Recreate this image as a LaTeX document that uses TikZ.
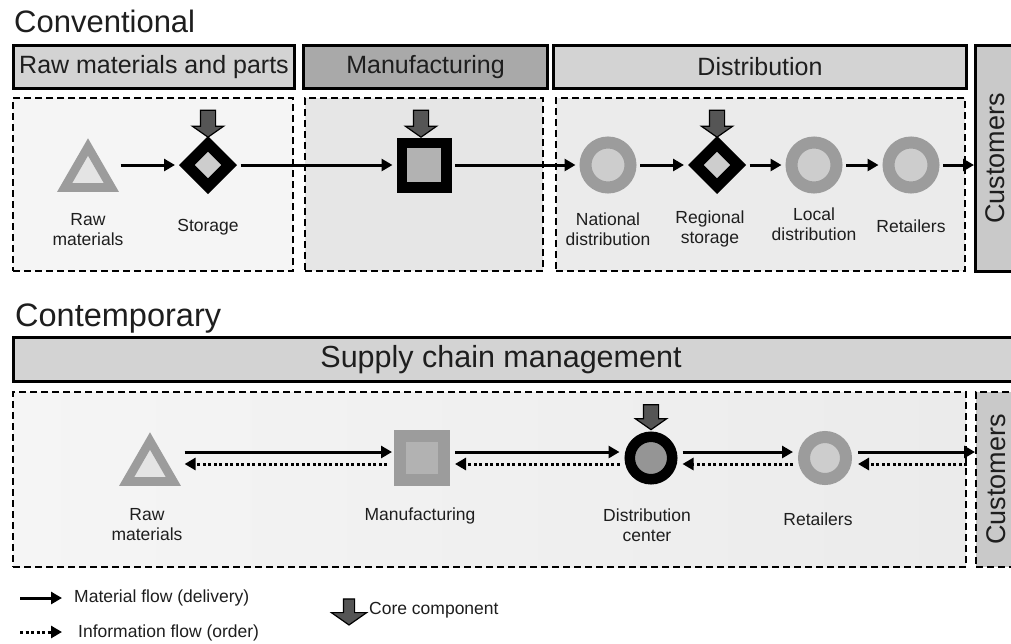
\documentclass[tikz,border=0pt]{standalone}
\usepackage{fontspec}
\setmainfont{Liberation Sans}
\usepackage{graphicx}
\usepackage{tikz}
\usetikzlibrary{shapes.geometric,shapes.arrows,arrows.meta}
\definecolor{ink}{HTML}{1E1E1E}
\definecolor{hdrfill}{HTML}{D3D3D3}
\definecolor{mfgfill}{HTML}{A9A9A9}
\definecolor{custfill}{HTML}{C9C9C9}
\definecolor{zoneA}{HTML}{F5F5F5}
\definecolor{zoneB}{HTML}{E6E6E6}
\definecolor{zoneC}{HTML}{EBEBEB}
\definecolor{ringgray}{HTML}{9C9C9C}
\definecolor{innergray}{HTML}{CDCDCD}
\definecolor{palegray}{HTML}{E4E4E4}
\definecolor{sqgray}{HTML}{B2B2B2}
\definecolor{dcgray}{HTML}{959595}
\definecolor{keygray}{HTML}{555555}
\tikzset{
  ttl/.style={text=ink, font=\fontsize{31}{35}\selectfont, anchor=base west, inner sep=0pt},
  hdr/.style={draw=black, line width=3pt, fill=hdrfill, text=ink, font=\fontsize{25}{29}\selectfont, minimum height=43pt, inner sep=0pt, anchor=north west},
  cust/.style={hdr, fill=custfill, font=\fontsize{27}{31}\selectfont, minimum width=39pt},
  zone/.style={draw=black, line width=2.4pt, dash pattern=on 7pt off 4pt, minimum height=173pt, inner sep=0pt, anchor=north west},
  lbl/.style={text=ink, font=\fontsize{17.5}{20}\selectfont, align=center, inner sep=0pt},
  lgd/.style={lbl, anchor=west},
  tri/.style={regular polygon, regular polygon sides=3, draw=ringgray, fill=palegray, line width=8.7pt, minimum size=54pt, inner sep=0pt},
  dia/.style={diamond, aspect=1, draw=black, fill=innergray, line width=11pt, minimum size=47pt, inner sep=0pt},
  sqbox/.style={rectangle, draw=black, fill=sqgray, line width=10.5pt, minimum size=44.5pt, inner sep=0pt},
  ringn/.style={circle, draw=ringgray, fill=innergray, line width=12pt, minimum size=45pt, inner sep=0pt},
  keyarr/.style={single arrow, draw=black, fill=keygray, line width=1.2pt, minimum height=27pt, minimum width=0pt, inner xsep=0pt, inner ysep=7pt, single arrow head extend=8pt, single arrow tip angle=110, rotate=-90},
  flow/.style={line width=3pt, -{Triangle[length=11pt,width=12pt]}, shorten >=4pt, shorten <=3.5pt},
  info/.style={flow, dash pattern=on 3pt off 2.5pt}
}
\begin{document}
\begin{tikzpicture}[x=1pt,y=-1pt]
  \useasboundingbox (0,0) rectangle (1011,643);
  \clip (0,0) rectangle (1011,643);
  \fill[white] (0,0) rectangle (1011,643);

  % conventional
  \node[ttl] (convT) at (14,32) {Conventional};
  \node[hdr, minimum width=281pt] (hdrA) at (12,44) {Raw materials and parts};
  \node[hdr, fill=mfgfill, minimum width=244pt] (hdrB) at (302,44) {Manufacturing};
  \node[hdr, minimum width=413pt] (hdrC) at (552,44) {Distribution};
  \node[cust, minimum height=226pt] (custA) at (974,44) {\rotatebox{90}{Customers}};
  \node[zone, fill=zoneA, minimum width=280pt] (zA) at (12,97) {};
  \node[zone, fill=zoneB, minimum width=238pt] (zB) at (304,97) {};
  \node[zone, fill=zoneC, minimum width=409pt] (zC) at (555,97) {};

  \node[tri] (rawA) at (88,174) {};
  \node[dia] (storA) at (208,165) {};
  \node[sqbox] (manA) at (424,165) {};
  \node[ringn] (natA) at (608,165) {};
  \node[dia] (regA) at (717,165) {};
  \node[ringn] (locA) at (814,165) {};
  \node[ringn] (retA) at (911,165) {};
  \node[keyarr] (keyA1) at (208,121) {};
  \node[keyarr] (keyA2) at (421,121) {};
  \node[keyarr] (keyA3) at (717,121) {};

  \draw[flow, shorten <=12pt] (rawA.east |- storA.west) -- (storA.west);
  \draw[flow] (storA) -- (manA);
  \draw[flow] (manA) -- (natA);
  \draw[flow] (natA) -- (regA);
  \draw[flow] (regA) -- (locA);
  \draw[flow] (locA) -- (retA);
  \draw[flow, shorten >=0pt] (retA) -- (retA -| custA.west);

  \node[lbl] (rawAl) at (88,230) {Raw\\materials};
  \node[lbl] (storAl) at (208,227) {Storage};
  \node[lbl] (natAl) at (608,229) {National\\distribution};
  \node[lbl] (regAl) at (710,229) {Regional\\storage};
  \node[lbl] (locAl) at (814,224) {Local\\distribution};
  \node[lbl] (retAl) at (911,226) {Retailers};

  % contemporary
  \node[ttl, font=\fontsize{32.5}{36}\selectfont] (contT) at (15,326) {Contemporary};
  \node[hdr, minimum width=1007pt, minimum height=44pt] (scm) at (12,336) {};
  \node[lbl, font=\fontsize{30.5}{34}\selectfont] (scmT) at (501,359.5) {Supply chain management};
  \node[zone, left color=zoneA, right color=zoneC, minimum width=953pt, minimum height=175pt] (zD) at (12,391) {};
  \node[zone, fill=custfill, text=ink, font=\fontsize{27}{31}\selectfont, minimum width=39pt, minimum height=175pt] (custB) at (975,391) {\rotatebox{90}{Customers}};

  \node[tri] (rawB) at (150,468) {};
  \node[sqbox, draw=ringgray, line width=12pt, minimum size=44pt] (manB) at (422,458) {};
  \node[ringn, draw=black, fill=dcgray, line width=10.5pt, minimum size=42.5pt] (dcB) at (651,458) {};
  \node[ringn, minimum size=42pt] (retB) at (825,458) {};
  \node[keyarr, minimum height=25pt] (keyB) at (651,414.5) {};

  \draw[flow, shorten <=14pt, shorten >=2pt] ([yshift=6pt]rawB.east |- manB.west) -- ([yshift=6pt]manB.west);
  \draw[info, shorten <=7pt, shorten >=14pt] ([yshift=-6pt]manB.west) -- ([yshift=-6pt]rawB.east |- manB.west);
  \draw[flow, shorten <=5pt, shorten >=5pt] ([yshift=6pt]manB.east) -- ([yshift=6pt]dcB.west);
  \draw[info, shorten <=5pt, shorten >=5pt] ([yshift=-6pt]dcB.west) -- ([yshift=-6pt]manB.east);
  \draw[flow, shorten <=5pt, shorten >=5pt] ([yshift=6pt]dcB.east) -- ([yshift=6pt]retB.west);
  \draw[info, shorten <=5pt, shorten >=5pt] ([yshift=-6pt]retB.west) -- ([yshift=-6pt]dcB.east);
  \draw[flow, shorten <=6pt, shorten >=0pt] ([yshift=6pt]retB.east) -- ([yshift=6pt]retB.east -| custB.west);
  \draw[info, shorten <=8pt, shorten >=6pt] ([yshift=-6pt]retB.east -| custB.west) -- ([yshift=-6pt]retB.east);

  \node[lbl] (rawBl) at (147,525) {Raw\\materials};
  \node[lbl] (manBl) at (420,516) {Manufacturing};
  \node[lbl] (dcBl) at (647,525) {Distribution\\center};
  \node[lbl] (retBl) at (818,519) {Retailers};

  % legend
  \coordinate (lgM0) at (20,598);
  \coordinate (lgM1) at (62,598);
  \draw[flow, shorten <=0pt, shorten >=0pt] (lgM0) -- (lgM1);
  \node[lgd] (lgMt) at (74,598) {Material flow (delivery)};
  \coordinate (lgI0) at (20,632);
  \coordinate (lgI1) at (62,632);
  \draw[info, shorten <=0pt, shorten >=0pt] (lgI0) -- (lgI1);
  \node[lgd] (lgIt) at (78,633) {Information flow (order)};
  \node[keyarr, inner ysep=5pt, single arrow head extend=12pt, minimum height=26pt] (lgC) at (349,610) {};
  \node[lgd] (lgCt) at (369,610) {Core component};
\end{tikzpicture}
\end{document}
